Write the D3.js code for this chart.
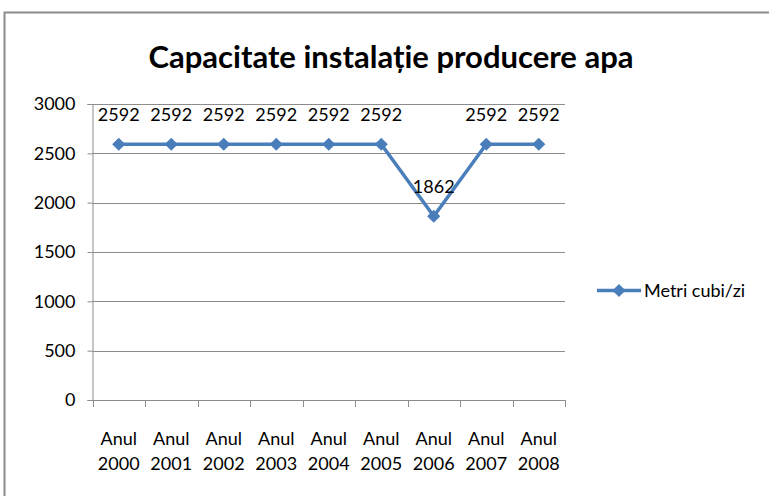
<!DOCTYPE html>
<html>
<head>
<meta charset="utf-8">
<script src="https://cdn.jsdelivr.net/npm/d3@7"></script>
<style>
  body { margin: 0; background: #fff; }
  svg { display: block; font-family: Lato, "Open Sans", sans-serif; }
</style>
</head>
<body>
<svg id="chart" width="769" height="496"></svg>
<script>
const years = ['2000', '2001', '2002', '2003', '2004', '2005', '2006', '2007', '2008']
const values = [2592, 2592, 2592, 2592, 2592, 2592, 1862, 2592, 2592]
const yTicks = [0, 500, 1000, 1500, 2000, 2500, 3000]
const seriesName = 'Metri cubi/zi'
const title = 'Capacitate instalație producere apa'

const svg = d3.select('#chart')
const blue = '#4a7ebb'
const grid = '#8c8c8c'

// outer chart frame
svg.append('rect')
  .attr('x', 4.5).attr('y', 12.5)
  .attr('width', 800).attr('height', 520)
  .attr('fill', 'none')
  .attr('stroke', '#8a8a8a')
  .attr('stroke-width', 2)

svg.append('text')
  .attr('x', 391).attr('y', 68)
  .attr('text-anchor', 'middle')
  .attr('font-weight', 'bold')
  .attr('font-size', 31)
  .attr('fill', '#000')
  .text(title)

const margin = { left: 92.5, right: 565, top: 104, bottom: 400 }

const x = d3.scaleBand().domain(years).range([margin.left, margin.right])
const y = d3.scaleLinear().domain([0, 3000]).range([margin.bottom, margin.top])

// horizontal gridlines
svg.append('g')
  .selectAll('line')
  .data(yTicks.filter(d => d > 0))
  .join('line')
  .attr('x1', margin.left).attr('x2', margin.right)
  .attr('y1', d => Math.round(y(d)) + 0.5).attr('y2', d => Math.round(y(d)) + 0.5)
  .attr('stroke', grid)

const yAxis = svg.append('g')
  .attr('transform', `translate(${margin.left},0)`)
  .call(d3.axisLeft(y).tickValues(yTicks).tickSize(5).tickPadding(12).tickFormat(d3.format('d')))
yAxis.select('.domain').attr('stroke', grid)
yAxis.selectAll('.tick line').attr('stroke', grid)
yAxis.selectAll('text').attr('font-size', 18).attr('fill', '#000').attr('font-family', 'Lato, sans-serif')

const xAxis = svg.append('g')
  .attr('transform', `translate(0,${margin.bottom})`)
  .call(d3.axisBottom(x).tickSize(0).tickFormat(''))
xAxis.select('.domain').attr('stroke', grid)

// category boundary ticks
const bounds = years.map(d => x(d)).concat([x(years[years.length - 1]) + x.bandwidth()])
svg.append('g')
  .selectAll('line')
  .data(bounds)
  .join('line')
  .attr('x1', d => Math.round(d) + 0.5).attr('x2', d => Math.round(d) + 0.5)
  .attr('y1', margin.bottom).attr('y2', margin.bottom + 7)
  .attr('stroke', grid)

const labels = svg.append('g')
  .selectAll('text')
  .data(years)
  .join('text')
  .attr('x', d => x(d) + x.bandwidth() / 2)
  .attr('text-anchor', 'middle')
  .attr('font-size', 18)
  .attr('fill', '#000')
labels.append('tspan').attr('x', d => x(d) + x.bandwidth() / 2).attr('y', 445).text('Anul')
labels.append('tspan').attr('x', d => x(d) + x.bandwidth() / 2).attr('y', 470).text(d => d)

const pts = years.map((d, i) => ({ year: d, value: values[i] }))
const line = d3.line()
  .x(d => x(d.year) + x.bandwidth() / 2)
  .y(d => y(d.value))

svg.append('path')
  .attr('d', line(pts))
  .attr('fill', 'none')
  .attr('stroke', blue)
  .attr('stroke-width', 3.5)
  .attr('stroke-linejoin', 'round')

const diamond = d3.symbol().type(d3.symbolDiamond2).size(110)
svg.append('g')
  .selectAll('path')
  .data(pts)
  .join('path')
  .attr('d', diamond)
  .attr('transform', d => `translate(${x(d.year) + x.bandwidth() / 2},${y(d.value)})`)
  .attr('fill', blue)

svg.append('g')
  .selectAll('text')
  .data(pts)
  .join('text')
  .attr('x', d => x(d.year) + x.bandwidth() / 2)
  .attr('y', d => y(d.value) - 23)
  .attr('text-anchor', 'middle')
  .attr('font-size', 18)
  .attr('fill', '#000')
  .text(d => d.value)

// legend
const lg = svg.append('g').attr('transform', 'translate(597,290.5)')
lg.append('line').attr('x1', 0).attr('x2', 44).attr('stroke', blue).attr('stroke-width', 3.5)
lg.append('path').attr('d', diamond).attr('transform', 'translate(22,0)').attr('fill', blue)
lg.append('text').attr('x', 47).attr('y', 6).attr('font-size', 18).attr('fill', '#000').text(seriesName)
</script>
</body>
</html>
